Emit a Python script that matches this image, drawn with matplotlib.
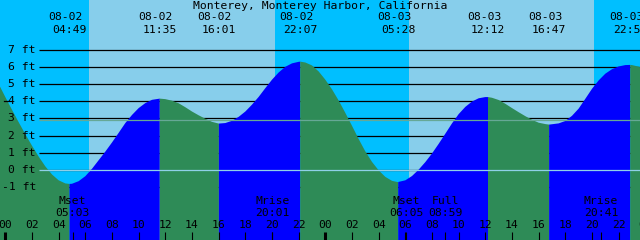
import matplotlib
matplotlib.use("Agg")
import matplotlib.pyplot as plt
import matplotlib.transforms as mtransforms
import numpy as np

# tide heights (ft), every half hour from 08-02 00:00
# (hour -1 .. 48)
half_h = np.arange(-1, 48.5, 0.5)
half_ft = [5.75, 5.00, 4.24, 3.50, 2.78, 2.08, 1.41, 0.78, 0.21, -0.26,
           -0.60, -0.78, -0.80, -0.65, -0.36, 0.07, 0.57, 1.07, 1.60, 2.16,
           2.73, 3.20, 3.60, 3.89, 4.08, 4.14, 4.12, 4.03, 3.88, 3.65,
           3.40, 3.18, 2.98, 2.80, 2.70, 2.73, 2.86, 3.09, 3.40, 3.80,
           4.25, 4.76, 5.25, 5.67, 6.00, 6.20, 6.29, 6.25, 6.08, 5.73,
           5.25, 4.69, 4.04, 3.32, 2.57, 1.80, 1.08, 0.47, -0.02, -0.40,
           -0.63, -0.69, -0.60, -0.35, 0.02, 0.46, 0.96, 1.52, 2.11, 2.71,
           3.25, 3.67, 3.98, 4.17, 4.24, 4.20, 4.07, 3.85, 3.60, 3.36,
           3.13, 2.92, 2.75, 2.67, 2.66, 2.71, 2.85, 3.15, 3.57, 4.14,
           4.72, 5.21, 5.60, 5.86, 6.02, 6.10, 6.10, 6.01, 5.85]

# highs / lows (low, high, low, high, ...)
ext_h = [4 + 49/60, 11 + 35/60, 16 + 1/60, 22 + 7/60,
         24 + 5 + 28/60, 24 + 12 + 12/60, 24 + 16 + 47/60, 24 + 22 + 52/60]
ext_ft = [-0.81, 4.15, 2.70, 6.30, -0.71, 4.24, 2.64, 6.11]
ext_date = ['08-02', '08-02', '08-02', '08-02', '08-03', '08-03', '08-03', '08-03']
ext_time = ['04:49', '11:35', '16:01', '22:07', '05:28', '12:12', '16:47', '22:52']

# daylight (sunrise, sunset) in hours
day_spans = [(6.28, 20.23), (30.28, 44.16)]

# moon events
moon_h = [5 + 3/60, 20 + 1/60, 24 + 6 + 5/60, 24 + 8 + 59/60, 24 + 20 + 41/60]
moon_name = ['Mset', 'Mrise', 'Mset', 'Full', 'Mrise']
moon_time = ['05:03', '20:01', '06:05', '08:59', '20:41']

ft_levels = list(range(-1, 8))
msl_ft = 2.89

title = 'Monterey, Monterey Harbor, California'

night = '#00BFFF'
daycol = '#87CEEB'
ebb = '#2E8B57'
flood = '#0000FF'

plt.rcParams['font.family'] = 'DejaVu Sans Mono'
fs = 8.2

W, H = 640, 240
fig = plt.figure(figsize=(W / 100, H / 100), dpi=100, facecolor=night)
ax = fig.add_axes([0, 0, 1, 1])
ax.set_xlim(-0.4, 47.6)
ax.set_ylim(-70 / 17.2, 170 / 17.2)
ax.axis('off')

for a, b in day_spans:
    ax.axvspan(a, b, color=daycol, lw=0, zorder=0)

# grid lines behind the water
x_left = (39 - 5.3) / 13.333
ax.hlines(ft_levels, x_left, 47.6, colors='black', lw=0.9, zorder=1)

# curve: half-hour readings plus the highs/lows
pts = sorted(zip(list(half_h) + ext_h, half_ft + ext_ft))
t = np.array([p[0] for p in pts])
z = np.array([p[1] for p in pts])

bounds = [-1.0] + ext_h + [48.0]
for i in range(len(bounds) - 1):
    a, b = bounds[i], bounds[i + 1]
    m = (t >= a - 1e-9) & (t <= b + 1e-9)
    # segment ending at a high = flood (blue), else ebb (green)
    col = flood if (i < len(ext_h) and i % 2 == 1) else ebb
    ax.fill_between(t[m], -10, z[m], color=col, lw=0, zorder=2)

ax.hlines([0], x_left, 47.6, colors='#8FD0E8', lw=0.9, zorder=3)
ax.hlines([msl_ft], x_left, 47.6, colors='#66A896', lw=0.9, zorder=3)

# y labels
ty = mtransforms.blended_transform_factory(fig.transFigure, ax.transData)
for v in ft_levels:
    ax.text(36 / W, v, f'{v} ft', transform=ty, ha='right', va='center', fontsize=fs, zorder=4)
ax.plot([4 / W, 11 / W], [4.0, 4.0], color='black', lw=0.9, transform=ty, zorder=4)

tx = mtransforms.blended_transform_factory(ax.transData, fig.transFigure)
tx_date = mtransforms.offset_copy(tx, fig=fig, x=-4, y=0, units='dots')

fig.text(0.5, 1 - 6 / H, title, ha='center', va='center', fontsize=fs)
for h, d, s in zip(ext_h, ext_date, ext_time):
    ax.text(h, 1 - 17 / H, d, transform=tx_date, ha='center', va='center', fontsize=fs, zorder=4)
    ax.text(h, 1 - 30 / H, s, transform=tx, ha='center', va='center', fontsize=fs, zorder=4)

for h, n, s in zip(moon_h, moon_name, moon_time):
    ax.text(h, 1 - 201 / H, n, transform=tx, ha='center', va='center', fontsize=fs, zorder=4)
    ax.text(h, 1 - 213 / H, s, transform=tx, ha='center', va='center', fontsize=fs, zorder=4)

# hour ticks and labels
hrs = np.arange(0, 49, 2)
for h in hrs:
    ax.text(h, 1 - 224.5 / H, f'{h % 24:02d}', transform=tx, ha='center', va='center', fontsize=fs, zorder=4)
thin = [h for h in hrs if h % 24 != 0] + moon_h
ax.vlines(thin, 0, 8 / H, colors='black', lw=0.8, transform=tx, zorder=4)
ax.vlines([0, 24, 48], 0, 8 / H, colors='black', lw=2.2, transform=tx, zorder=4)

fig.savefig('out.png', dpi=100, facecolor=night)
